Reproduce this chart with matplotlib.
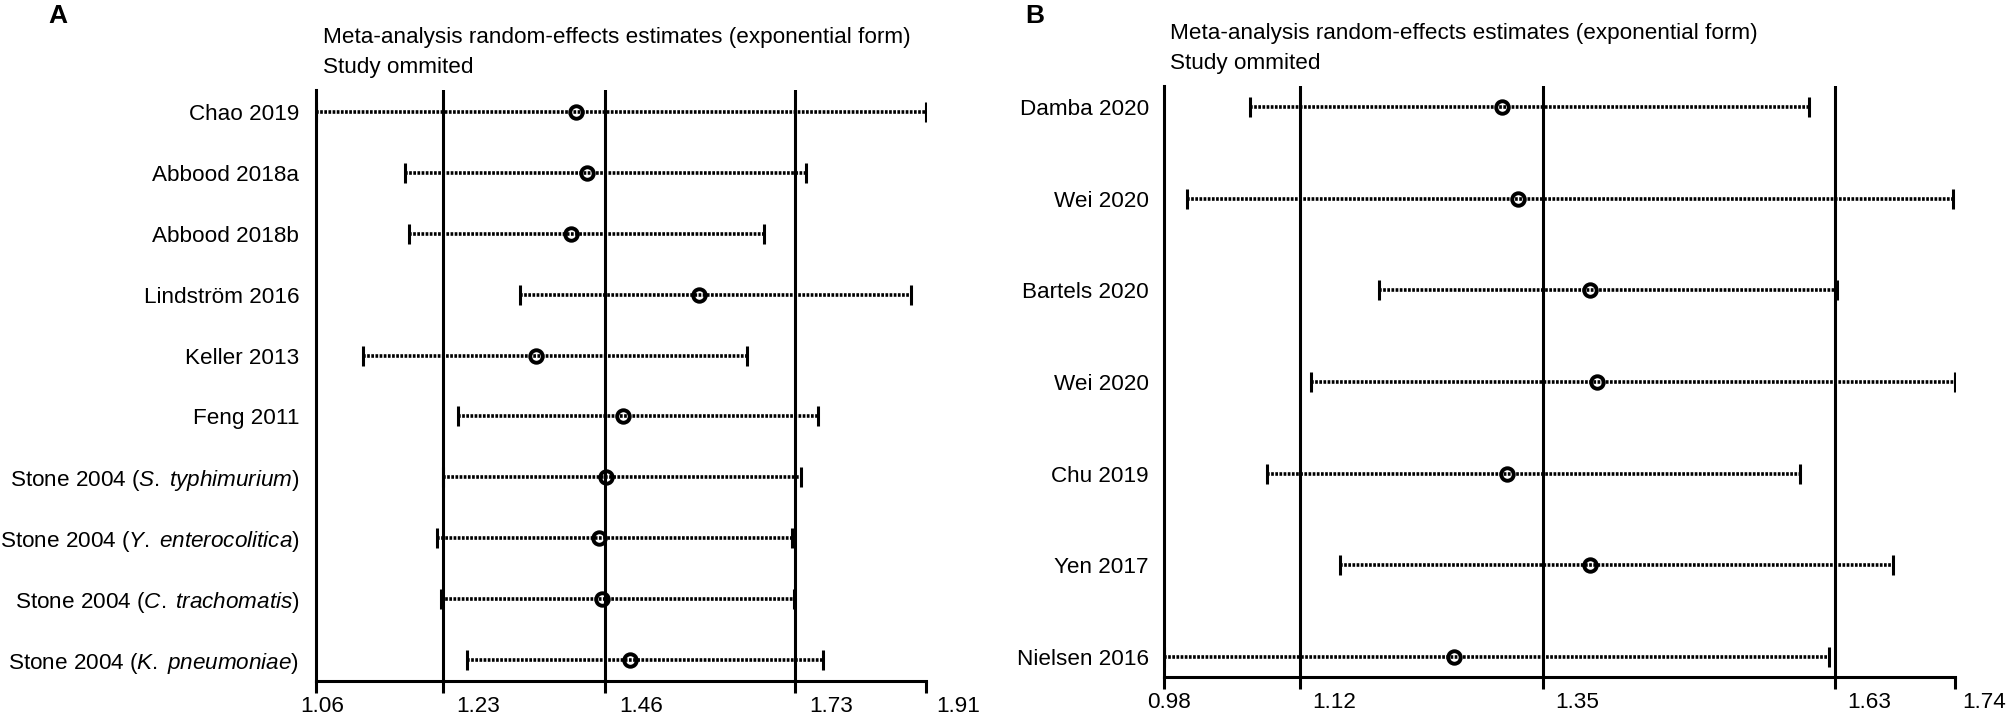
import matplotlib
matplotlib.use("Agg")
import matplotlib.pyplot as plt
from matplotlib.transforms import ScaledTranslation

plt.rcParams['font.family'] = ['Liberation Sans', 'DejaVu Sans']
plt.rcParams['mathtext.fontset'] = 'custom'
plt.rcParams['mathtext.rm'] = 'Liberation Sans'
plt.rcParams['mathtext.it'] = 'Liberation Sans:italic'

# ---------------- data ----------------
title_lines = ["Meta-analysis random-effects estimates (exponential form)", "Study ommited"]

studies_a = ["Chao 2019", "Abbood 2018a", "Abbood 2018b", "Lindström 2016", "Keller 2013",
             "Feng 2011",
             "Stone 2004 ($\\mathit{S.\\;typhimurium}$)",
             "Stone 2004 ($\\mathit{Y.\\;enterocolitica}$)",
             "Stone 2004 ($\\mathit{C.\\;trachomatis}$)",
             "Stone 2004 ($\\mathit{K.\\;pneumoniae}$)"]
est_a = [1.422, 1.437, 1.415, 1.593, 1.367, 1.488, 1.464, 1.454, 1.458, 1.497]
lo_a = [1.060, 1.184, 1.189, 1.344, 1.125, 1.258, 1.237, 1.229, 1.234, 1.271]
hi_a = [1.910, 1.743, 1.684, 1.889, 1.661, 1.760, 1.736, 1.723, 1.726, 1.767]
ref_a = [1.237, 1.463, 1.728]
ticks_a = [1.06, 1.237, 1.463, 1.728, 1.91]
ticklabels_a = ["1.06", "1.23", "1.46", "1.73", "1.91"]

studies_b = ["Damba 2020", "Wei 2020", "Bartels 2020", "Wei 2020", "Chu 2019", "Yen 2017", "Nielsen 2016"]
est_b = [1.305, 1.320, 1.389, 1.396, 1.310, 1.389, 1.259]
lo_b = [1.063, 1.002, 1.187, 1.121, 1.079, 1.149, 0.980]
hi_b = [1.600, 1.738, 1.627, 1.740, 1.591, 1.680, 1.619]
ref_b = [1.111, 1.344, 1.625]
ticks_b = [0.98, 1.111, 1.344, 1.625, 1.74]
ticklabels_b = ["0.98", "1.12", "1.35", "1.63", "1.74"]

W, H = 2008, 714
DPI = 100
FS = 16.2
LW = 2.2

fig = plt.figure(figsize=(W / DPI, H / DPI), dpi=DPI)


def px(v):
    return v / DPI


def panel(rect, studies, est, lo, hi, refs, ticks, ticklabels, xlim, ylim, label_pad, offsets):
    ax = fig.add_axes(rect)
    rows = list(range(1, len(studies) + 1))
    for r, l, h in zip(rows, lo, hi):
        ax.plot([l, h], [r, r], color='black', lw=2.6, linestyle=(0, (0.75, 0.4)),
                solid_capstyle='butt', dash_capstyle='butt', zorder=2)
    ax.plot(lo, rows, linestyle='none', marker='|', ms=14.4, mew=2.2, color='black', zorder=3)
    ax.plot(hi, rows, linestyle='none', marker='|', ms=14.4, mew=2.2, color='black', zorder=3)
    for v in refs:
        ax.axvline(v, color='black', lw=LW, zorder=1)
    ax.plot(est, rows, linestyle='none', marker='o', ms=9.0, mew=2.8, mfc='none',
            mec='black', zorder=4)
    ax.set_xlim(*xlim)
    ax.set_ylim(*ylim)
    ax.set_yticks(rows, labels=studies, fontsize=FS)
    ax.tick_params(axis='y', length=0, pad=label_pad)
    ax.set_xticks(ticks, labels=[])
    ax.tick_params(axis='x', direction='out', length=8.6, width=LW, color='black')
    for s in ['top', 'right']:
        ax.spines[s].set_visible(False)
    for s in ['left', 'bottom']:
        ax.spines[s].set_linewidth(LW)
        ax.spines[s].set_capstyle('projecting')
    base = ax.get_xaxis_transform()
    for t, lab, dx in zip(ticks, ticklabels, offsets):
        tr = base + ScaledTranslation(px(dx), px(-31), fig.dpi_scale_trans)
        ax.text(t, 0, lab, transform=tr, ha='center', va='baseline', fontsize=FS)
    return ax


# Panel A
axA = panel([316 / W, 1 - 681 / H, 610 / W, (681 - 90) / H],
            studies_a, est_a, lo_a, hi_a, ref_a, ticks_a, ticklabels_a,
            (1.06, 1.91), (10.345, 0.639), 12.0, [6, 35, 36, 36, 32])
# Panel B
axB = panel([1164 / W, 1 - 677 / H, 791 / W, (677 - 86) / H],
            studies_b, est_b, lo_b, hi_b, ref_b, ticks_b, ticklabels_b,
            (0.98, 1.74), (7.22, 0.77), 10.8, [5, 34, 34, 34, 29])

# titles
fig.text(323 / W, 1 - 37 / H, title_lines[0], fontsize=FS, ha='left', va='center')
fig.text(323 / W, 1 - 67 / H, title_lines[1], fontsize=FS, ha='left', va='center')
fig.text(1170 / W, 1 - 33 / H, title_lines[0], fontsize=FS, ha='left', va='center')
fig.text(1170 / W, 1 - 63 / H, title_lines[1], fontsize=FS, ha='left', va='center')

# panel letters
fig.text(48 / W, 1 - 16 / H, "A", fontsize=19, fontweight='bold', ha='left', va='center')
fig.text(1025 / W, 1 - 16 / H, "B", fontsize=19, fontweight='bold', ha='left', va='center')

fig.savefig("out.png", dpi=DPI)
